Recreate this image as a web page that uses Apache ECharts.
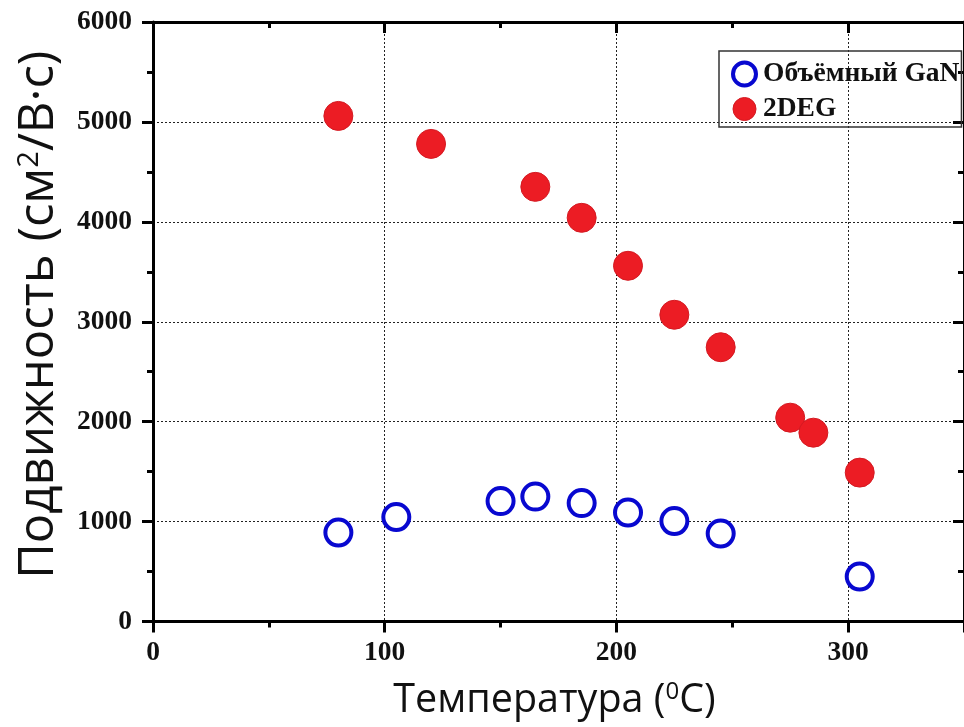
<!DOCTYPE html>
<html>
<head>
<meta charset="utf-8">
<script src="https://cdn.jsdelivr.net/npm/echarts@6/dist/echarts.min.js"></script>
<style>
html,body{margin:0;padding:0;background:#fff;}
#c{width:964px;height:727px;}
</style>
</head>
<body>
<div id="c"></div>
<script>
// Data
var bulkName = 'Объёмный GaN';
var bulkT = [80, 105, 150, 165, 185, 205, 225, 245, 305];
var bulkMu = [890, 1045, 1205, 1250, 1185, 1090, 1005, 880, 450];

var twoDegName = '2DEG';
var twoDegT = [80, 120, 165, 185, 205, 225, 245, 275, 285, 305];
var twoDegMu = [5060, 4780, 4350, 4040, 3560, 3070, 2745, 2040, 1890, 1490];

var xTicks = [0, 100, 200, 300];
var yTicks = [0, 1000, 2000, 3000, 4000, 5000, 6000];

function pairs(xs, ys) { return xs.map(function (x, i) { return [x, ys[i]]; }); }

var blue = '#0808d0';
var red = '#ec1c24';
var labelFont = { fontFamily: 'Liberation Serif', fontWeight: 'bold', fontSize: 27.5, color: '#111' };
var axisLine = { show: true, onZero: false, lineStyle: { color: '#000', width: 3 } };
var split = { show: true, lineStyle: { color: '#222', width: 1, type: [2, 2] } };

var chart = echarts.init(document.getElementById('c'), null, { renderer: 'canvas' });
chart.setOption({
  animation: false,
  backgroundColor: '#fff',
  grid: { left: 153, right: -2, top: 22, bottom: 105.5, containLabel: false },
  legend: {
    left: 719, top: 51, orient: 'vertical',
    borderColor: '#333', borderWidth: 1.5, borderRadius: 0,
    padding: [9, 2, 4, 12],
    itemGap: 7, itemWidth: 23, itemHeight: 23,
    textStyle: { fontFamily: 'Liberation Serif', fontWeight: 'bold', fontSize: 27.5, color: '#111', padding: [0, 0, 0, 2] },
    data: [
      { name: bulkName, icon: 'circle', itemStyle: { color: '#fff', borderColor: blue, borderWidth: 4 } },
      { name: twoDegName, icon: 'circle', itemStyle: { color: red, borderColor: '#d41a22', borderWidth: 1 } }
    ]
  },
  xAxis: [{
    type: 'value', min: 0, max: 350, interval: 100, position: 'bottom',
    name: '{m|Температура (}{s|0}{m|C)}', nameLocation: 'middle', nameGap: 59,
    nameTextStyle: {
      padding: [0, 8, 0, 0],
      rich: {
        m: { fontFamily: 'Open Sans', fontSize: 39.5, color: '#111' },
        s: { fontFamily: 'Open Sans', fontSize: 24, color: '#111', verticalAlign: 'top' }
      }
    },
    axisLine: axisLine,
    axisTick: { show: true, inside: false, length: 11, lineStyle: { color: '#000', width: 3 } },
    minorTick: { show: true, splitNumber: 2, length: 6, lineStyle: { color: '#000', width: 3 } },
    axisLabel: Object.assign({ margin: 17, showMaxLabel: false,
      formatter: function (v) { return xTicks.indexOf(v) >= 0 ? String(v) : ''; } }, labelFont),
    splitLine: split
  }, {
    type: 'value', min: 0, max: 350, interval: 100, position: 'top',
    axisLine: axisLine,
    axisTick: { show: true, inside: true, length: 11, lineStyle: { color: '#000', width: 3 } },
    minorTick: { show: true, splitNumber: 2, length: 6, lineStyle: { color: '#000', width: 3 } },
    axisLabel: { show: false }, splitLine: { show: false }
  }],
  yAxis: [{
    type: 'value', min: 0, max: 6000, interval: 1000, position: 'left',
    name: '{m|Подвижность (см}{s|2}{m|/В·с)}', nameLocation: 'middle', nameGap: 89, nameRotate: 90,
    nameTextStyle: {
      padding: [0, 0, 0, 14],
      rich: {
        m: { fontFamily: 'Open Sans', fontSize: 49, color: '#111' },
        s: { fontFamily: 'Open Sans', fontSize: 29, color: '#111', verticalAlign: 'top' }
      }
    },
    axisLine: axisLine,
    axisTick: { show: true, inside: false, length: 11, lineStyle: { color: '#000', width: 3 } },
    minorTick: { show: true, splitNumber: 2, length: 6, lineStyle: { color: '#000', width: 3 } },
    axisLabel: Object.assign({ margin: 21,
      formatter: function (v) { return yTicks.indexOf(v) >= 0 ? String(v) : ''; } }, labelFont),
    splitLine: split
  }, {
    type: 'value', min: 0, max: 6000, interval: 1000, position: 'right',
    axisLine: axisLine,
    axisTick: { show: true, inside: true, length: 11, lineStyle: { color: '#000', width: 3 } },
    minorTick: { show: true, splitNumber: 2, length: 6, lineStyle: { color: '#000', width: 3 } },
    axisLabel: { show: false }, splitLine: { show: false }
  }],
  series: [{
    name: bulkName, type: 'scatter', xAxisIndex: 0, yAxisIndex: 0,
    symbol: 'circle', symbolSize: 26,
    itemStyle: { color: '#fff', borderColor: blue, borderWidth: 4, opacity: 1 },
    data: pairs(bulkT, bulkMu), z: 3
  }, {
    name: twoDegName, type: 'scatter', xAxisIndex: 0, yAxisIndex: 0,
    symbol: 'circle', symbolSize: 29,
    itemStyle: { color: red, borderColor: '#d41a22', borderWidth: 1, opacity: 1 },
    data: pairs(twoDegT, twoDegMu), z: 3
  }]
});
</script>
</body>
</html>
